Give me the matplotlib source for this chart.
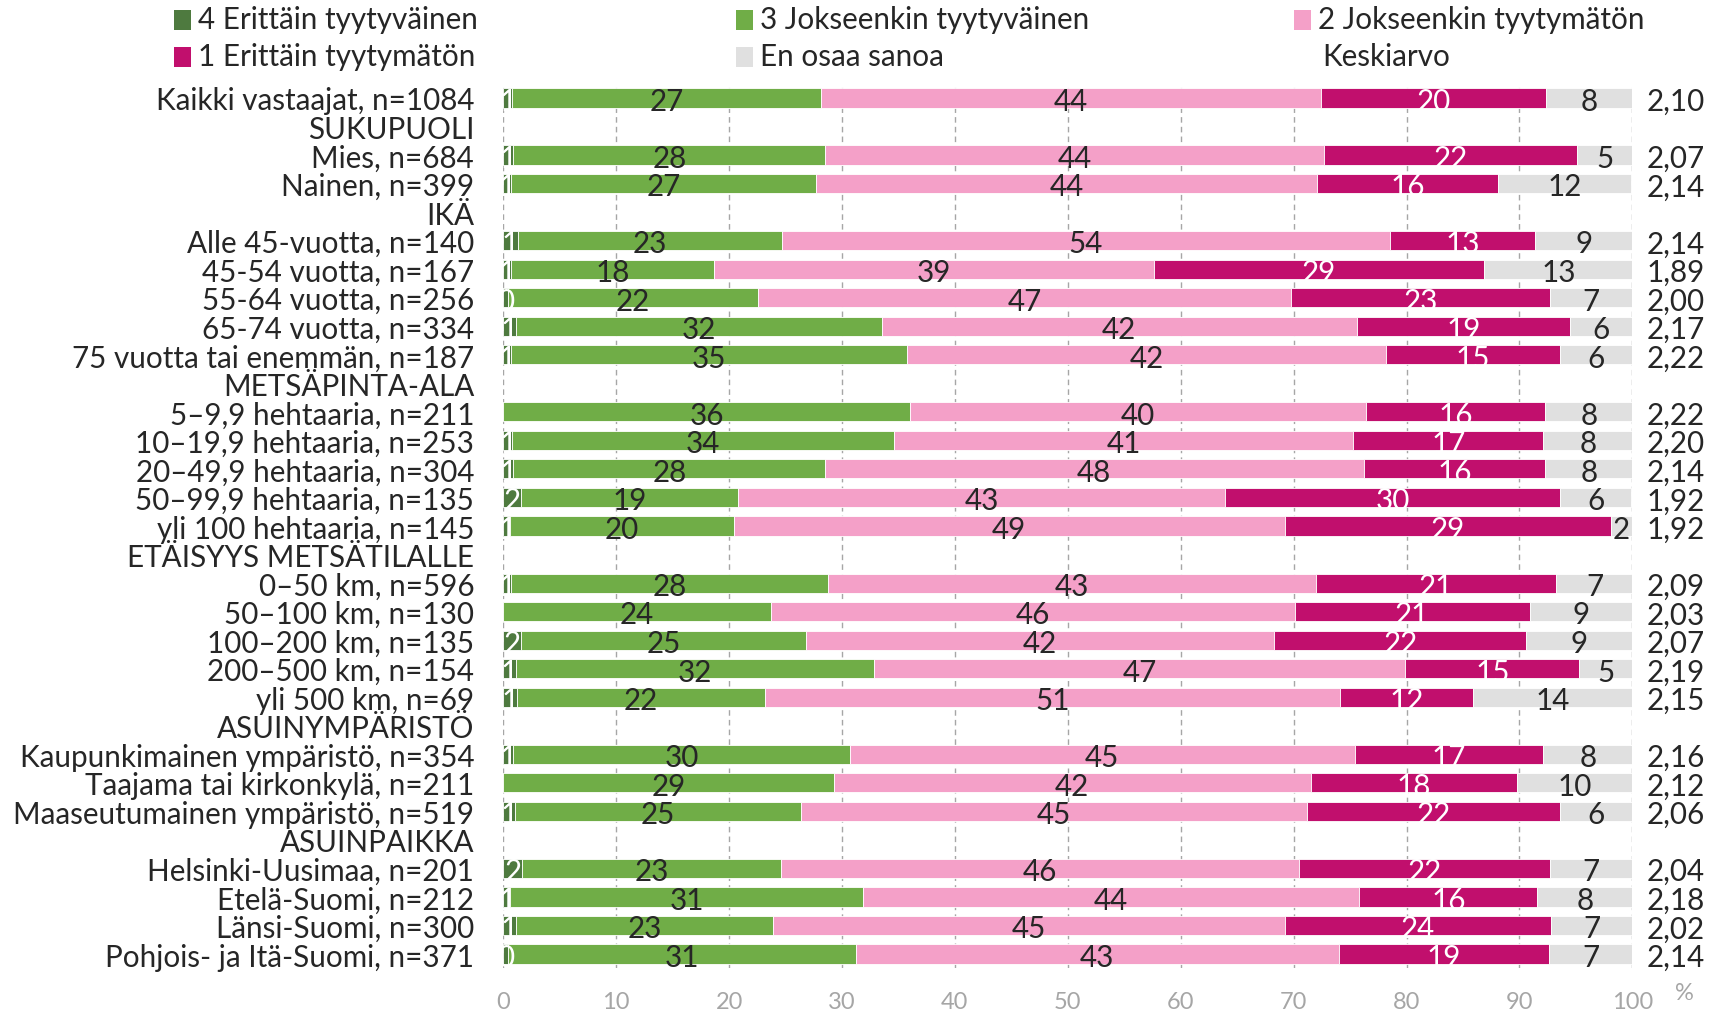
import matplotlib
matplotlib.use("Agg")
import matplotlib.pyplot as plt
from matplotlib.patches import Rectangle
import matplotlib.transforms as mtransforms
import numpy as np

plt.rcParams['font.family'] = ['Lato', 'DejaVu Sans']

# ---------------- data ----------------
groups = ["", "SUKUPUOLI", "IKÄ", "METSÄPINTA-ALA", "ETÄISYYS METSÄTILALLE",
          "ASUINYMPÄRISTÖ", "ASUINPAIKKA"]
group_sizes = [1, 2, 5, 5, 5, 3, 4]

categories = [
    "Kaikki vastaajat, n=1084",
    "Mies, n=684", "Nainen, n=399",
    "Alle 45-vuotta, n=140", "45-54 vuotta, n=167", "55-64 vuotta, n=256",
    "65-74 vuotta, n=334", "75 vuotta tai enemmän, n=187",
    "5–9,9 hehtaaria, n=211", "10–19,9 hehtaaria, n=253", "20–49,9 hehtaaria, n=304",
    "50–99,9 hehtaaria, n=135", "yli 100 hehtaaria, n=145",
    "0–50 km, n=596", "50–100 km, n=130", "100–200 km, n=135", "200–500 km, n=154",
    "yli 500 km, n=69",
    "Kaupunkimainen ympäristö, n=354", "Taajama tai kirkonkylä, n=211",
    "Maaseutumainen ympäristö, n=519",
    "Helsinki-Uusimaa, n=201", "Etelä-Suomi, n=212", "Länsi-Suomi, n=300",
    "Pohjois- ja Itä-Suomi, n=371",
]

series_names = ["4 Erittäin tyytyväinen", "3 Jokseenkin tyytyväinen",
                "2 Jokseenkin tyytymätön", "1 Erittäin tyytymätön", "En osaa sanoa"]

v4 = [0.8, 0.9, 0.7, 1.3, 0.7, 0.4, 1.1, 0.7, 0.0, 0.8, 0.9, 1.6, 0.6,
      0.7, 0.0, 1.6, 1.1, 1.2, 0.9, 0.0, 1.0, 1.7, 0.6, 1.1, 0.4]
v3 = [27.3, 27.6, 27.0, 23.4, 18.0, 22.2, 32.4, 35.1, 36.0, 33.8, 27.6, 19.2, 19.8,
      28.1, 23.7, 25.2, 31.7, 22.0, 29.8, 29.3, 25.4, 22.9, 31.3, 22.8, 30.8]
v2 = [44.3, 44.2, 44.4, 53.8, 38.9, 47.2, 42.1, 42.4, 40.4, 40.7, 47.7, 43.1, 48.8,
      43.2, 46.4, 41.5, 47.1, 50.9, 44.7, 42.2, 44.8, 45.9, 43.9, 45.3, 42.8]
v1 = [20.0, 22.4, 16.0, 12.9, 29.3, 22.9, 18.9, 15.4, 15.9, 16.8, 16.1, 29.7, 28.9,
      21.2, 20.8, 22.3, 15.4, 11.8, 16.7, 18.3, 22.4, 22.2, 15.8, 23.6, 18.6]
veos = [7.6, 4.9, 11.8, 8.7, 13.1, 7.3, 5.5, 6.4, 7.7, 7.9, 7.7, 6.3, 1.9,
        6.9, 9.1, 9.4, 4.8, 14.1, 7.9, 10.2, 6.4, 7.3, 8.4, 7.2, 7.4]

keskiarvo = [2.10, 2.07, 2.14, 2.14, 1.89, 2.00, 2.17, 2.22, 2.22, 2.20, 2.14, 1.92, 1.92,
             2.09, 2.03, 2.07, 2.19, 2.15, 2.16, 2.12, 2.06, 2.04, 2.18, 2.02, 2.14]

xticks = list(range(0, 101, 10))

# ---------------- style ----------------
colors = ["#4e7a3f", "#70ad47", "#f4a0c8", "#c10f6d", "#e0e0e0"]
label_colors = ["white", "#262626", "#262626", "white", "#262626"]
txt = "#262626"
grey_txt = "#a6a6a6"
FS = 21.3

W, H = 1709, 1012
fig = plt.figure(figsize=(W / 100, H / 100), dpi=100)
ax_top, ax_bot = 84.7, 969.3
ax_left, ax_right = 503.3, 1632.3
ax = fig.add_axes([ax_left / W, 1 - ax_bot / H, (ax_right - ax_left) / W, (ax_bot - ax_top) / H])

# build row positions
row_labels = []
data_pos = []
pos = 0
idx = 0
for g, n in zip(groups, group_sizes):
    if g:
        row_labels.append(g)
        pos += 1
    for k in range(n):
        row_labels.append(categories[idx])
        data_pos.append(pos)
        pos += 1
        idx += 1
nrows = pos
data_pos = np.array(data_pos)

series = [np.array(v4), np.array(v3), np.array(v2), np.array(v1), np.array(veos)]
left = np.zeros(len(categories))
for s, col, lc in zip(series, colors, label_colors):
    ax.barh(data_pos, s, left=left, height=0.67, color=col, edgecolor="white",
            linewidth=0.6, zorder=2)
    for yp, l, w in zip(data_pos, left, s):
        if w > 0:
            ax.text(l + w / 2, yp + 0.1, f"{w:.0f}", ha="center", va="center",
                    color=lc, fontsize=FS, zorder=3)
    left = left + s

# mean column
trans = mtransforms.blended_transform_factory(ax.transAxes, ax.transData)
for yp, m in zip(data_pos, keskiarvo):
    ax.text(1.0128, yp + 0.1, f"{m:.2f}".replace(".", ","), transform=trans,
            ha="left", va="center", fontsize=FS, color=txt)

ax.set_xlim(0, 100)
ax.set_ylim(nrows - 0.5, -0.5)
ax.set_yticks(range(nrows))
ax.set_yticklabels(row_labels, fontsize=FS, color=txt)
ax.tick_params(axis="y", length=0, pad=21)
ax.set_xticks(xticks)
ax.set_xticklabels([str(t) for t in xticks], fontsize=17, color=grey_txt)
ax.tick_params(axis="x", length=0, pad=16)
ax.xaxis.grid(True, linestyle=(0, (4, 3)), color="#a6a6a6", linewidth=1.0)
ax.yaxis.grid(False)
ax.set_axisbelow(True)
for sp in ax.spines.values():
    sp.set_visible(False)

fig.text(1684 / W, 1 - 994 / H, "%", fontsize=17, color=grey_txt, ha="center", va="center")

# legend (manual)
leg_items = [
    (174, 20.5, series_names[0], colors[0]),
    (736, 20.5, series_names[1], colors[1]),
    (1294, 20.5, series_names[2], colors[2]),
    (174, 57.5, series_names[3], colors[3]),
    (736, 57.5, series_names[4], colors[4]),
    (1294, 57.5, "Keskiarvo", None),
]
for x, y, name, col in leg_items:
    if col is not None:
        fig.patches.append(Rectangle((x / W, 1 - (y + 10) / H), 17 / W, 20 / H,
                                     transform=fig.transFigure, facecolor=col,
                                     edgecolor="none"))
        fig.text((x + 24) / W, 1 - y / H, name, fontsize=FS, color=txt,
                 ha="left", va="center")
    else:
        fig.text((x + 28) / W, 1 - y / H, name, fontsize=FS, color=txt,
                 ha="left", va="center")

fig.savefig("out.png", dpi=100)
